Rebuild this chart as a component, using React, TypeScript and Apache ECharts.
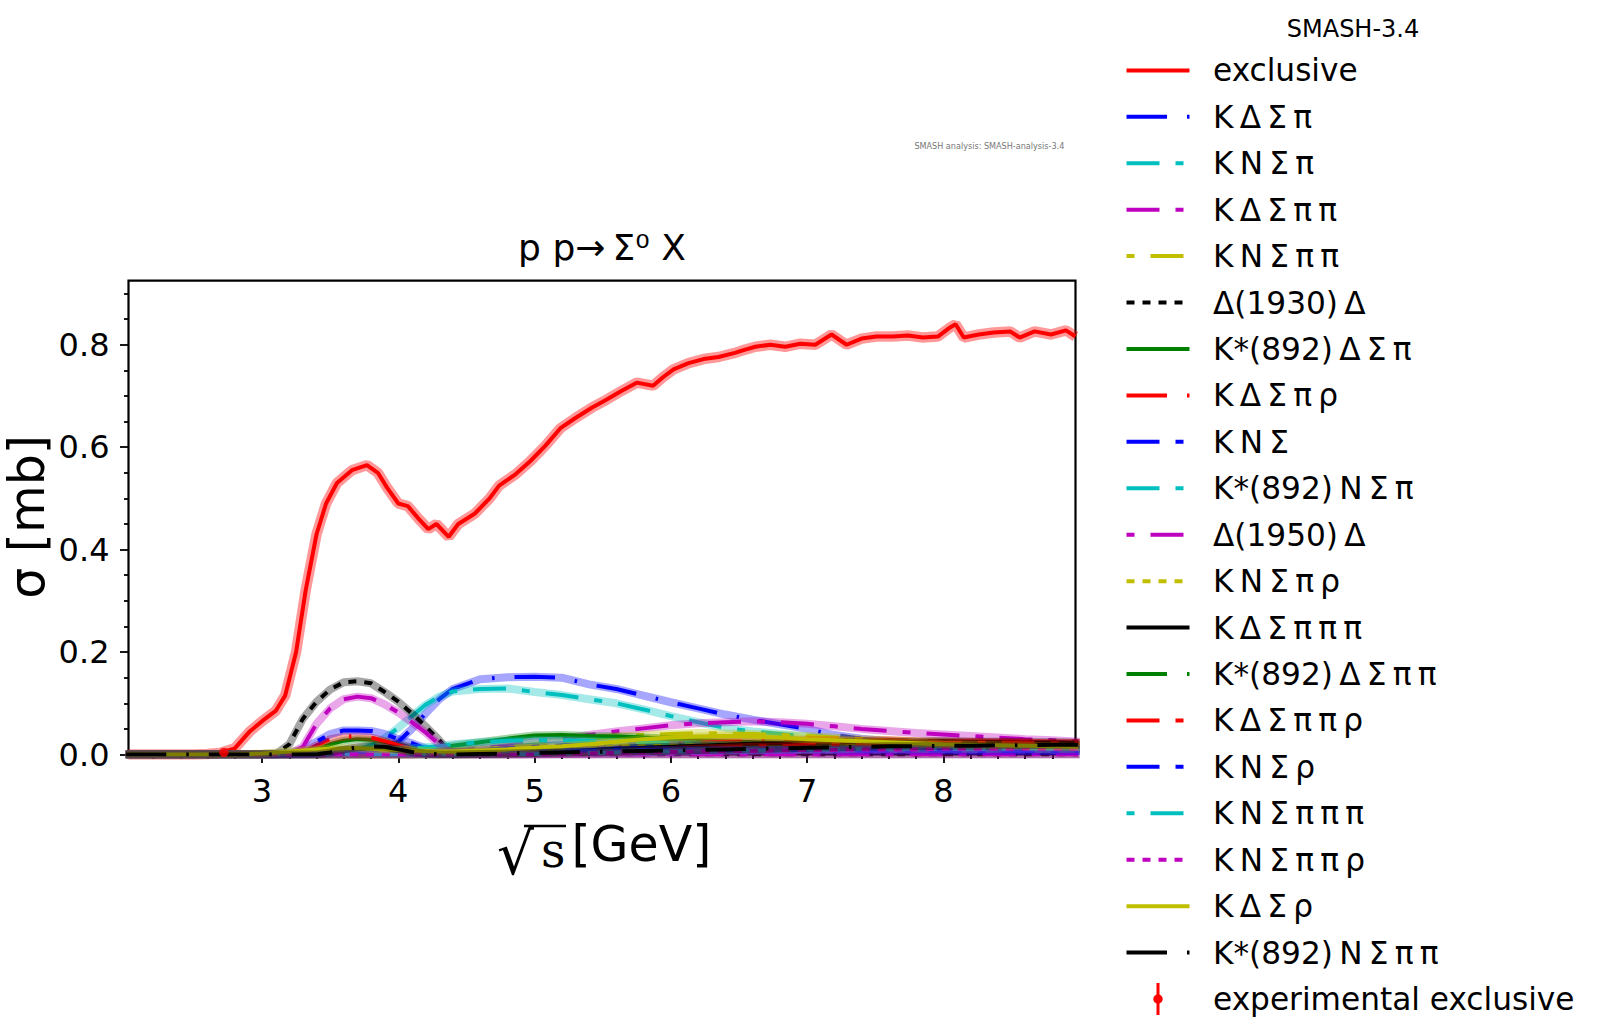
import React, { useEffect, useRef } from "react";
import * as echarts from "echarts";

// ---------- axes ----------
const X_MIN = 2.02;
const X_MAX = 8.97;
const Y_MIN = 0;
const Y_MAX = 0.925;
const X_MAJOR = [3, 4, 5, 6, 7, 8];
const X_MINOR = [2.2, 2.4, 2.6, 2.8, 3.2, 3.4, 3.6, 3.8, 4.2, 4.4, 4.6, 4.8, 5.2, 5.4, 5.6, 5.8, 6.2, 6.4, 6.6, 6.8, 7.2, 7.4, 7.6, 7.8, 8.2, 8.4, 8.6, 8.8];
const Y_MAJOR = [0, 0.2, 0.4, 0.6, 0.8];
const Y_MINOR = [0.05, 0.1, 0.15, 0.25, 0.3, 0.35, 0.45, 0.5, 0.55, 0.65, 0.7, 0.75, 0.85, 0.9];

// ---------- exclusive ----------
const EXCL_X = [2.02, 2.3, 2.5, 2.6, 2.69, 2.8, 2.91, 3.0, 3.1, 3.17, 3.25, 3.32, 3.4, 3.47, 3.55, 3.66, 3.77, 3.85, 3.92, 4.0, 4.07, 4.15, 4.22, 4.28, 4.37, 4.44, 4.56, 4.67, 4.74, 4.86, 4.97, 5.08, 5.19, 5.3, 5.42, 5.53, 5.64, 5.75, 5.87, 5.94, 6.02, 6.13, 6.24, 6.35, 6.47, 6.54, 6.62, 6.73, 6.84, 6.95, 7.06, 7.18, 7.29, 7.4, 7.51, 7.63, 7.74, 7.85, 7.96, 8.04, 8.09, 8.15, 8.26, 8.37, 8.49, 8.56, 8.67, 8.79, 8.9, 8.97];
const EXCL_Y = [0, 0, 0, 0.001, 0.003, 0.012, 0.045, 0.065, 0.085, 0.115, 0.2, 0.32, 0.43, 0.49, 0.53, 0.555, 0.565, 0.55, 0.52, 0.49, 0.485, 0.46, 0.44, 0.45, 0.425, 0.45, 0.47, 0.5, 0.525, 0.547, 0.573, 0.603, 0.637, 0.657, 0.677, 0.693, 0.71, 0.726, 0.72, 0.736, 0.752, 0.764, 0.772, 0.776, 0.784, 0.79, 0.796, 0.8, 0.796, 0.802, 0.8, 0.82, 0.8, 0.812, 0.816, 0.816, 0.818, 0.814, 0.816, 0.832, 0.84, 0.814, 0.82, 0.824, 0.826, 0.814, 0.826, 0.82, 0.828, 0.816];

// ---------- experimental ----------
const EXP_X = [2.72];
const EXP_Y = [0.004];
const EXP_ERR = [0.002];

// ---------- channel grid (sqrt(s) in GeV) ----------
const G = [2.0, 2.4, 2.8,
  3.0, 3.1, 3.2, 3.3, 3.4, 3.5, 3.6, 3.7, 3.8, 3.9,
  4.0, 4.1, 4.2, 4.3, 4.4,
  4.6, 4.8, 5.0, 5.2, 5.4, 5.6, 5.8,
  6.0, 6.2, 6.4, 6.6, 6.8,
  7.0, 7.2, 7.4, 7.6, 7.8,
  8.0, 8.2, 8.4, 8.6, 8.8, 9.0];

const V_KDSpi = [0, 0, 0,
  0, 0, 0, 0, 0, 0, 0, 0, 0.002, 0.008,
  0.025, 0.05, 0.08, 0.108, 0.128,
  0.147, 0.151, 0.152, 0.15, 0.137, 0.128, 0.115,
  0.102, 0.09, 0.078, 0.068, 0.059,
  0.05, 0.038, 0.031, 0.026, 0.022,
  0.019, 0.017, 0.015, 0.014, 0.013, 0.012];
const V_KNSpi = [0, 0, 0,
  0, 0, 0.001, 0.002, 0.003, 0.004, 0.006, 0.01, 0.018, 0.032,
  0.052, 0.075, 0.097, 0.113, 0.123,
  0.128, 0.129, 0.122, 0.116, 0.108, 0.1, 0.088,
  0.075, 0.063, 0.052, 0.045, 0.04,
  0.035, 0.03, 0.027, 0.024, 0.022,
  0.02, 0.019, 0.018, 0.017, 0.016, 0.015];
const V_KDSpipi = [0, 0, 0,
  0, 0, 0, 0, 0, 0, 0, 0, 0, 0,
  0, 0, 0.002, 0.005, 0.008,
  0.012, 0.018, 0.025, 0.031, 0.038, 0.045, 0.051,
  0.057, 0.061, 0.063, 0.065, 0.063,
  0.06, 0.055, 0.05, 0.046, 0.042,
  0.039, 0.036, 0.033, 0.03, 0.028, 0.025];
const V_KNSpipi = [0, 0, 0,
  0, 0, 0, 0, 0, 0, 0, 0, 0, 0,
  0, 0, 0.002, 0.004, 0.006,
  0.01, 0.015, 0.02, 0.025, 0.03, 0.035, 0.038,
  0.04, 0.042, 0.041, 0.04, 0.038,
  0.036, 0.033, 0.03, 0.028, 0.026,
  0.024, 0.022, 0.02, 0.018, 0.017, 0.016];
const V_D1930D = [0, 0, 0,
  0, 0, 0.02, 0.07, 0.103, 0.127, 0.141, 0.143, 0.139, 0.122,
  0.103, 0.08, 0.055, 0.028, 0,
  0, 0, 0, 0, 0, 0, 0,
  0, 0, 0, 0, 0,
  0, 0, 0, 0, 0,
  0, 0, 0, 0, 0, 0];
const V_KsDSpi = [0, 0, 0,
  0, 0, 0, 0.003, 0.01, 0.02, 0.027, 0.03, 0.029, 0.025,
  0.02, 0.014, 0.01, 0.012, 0.017,
  0.024, 0.031, 0.037, 0.038, 0.036, 0.035, 0.033,
  0.03, 0.028, 0.026, 0.024, 0.022,
  0.02, 0.018, 0.017, 0.016, 0.015,
  0.014, 0.013, 0.012, 0.011, 0.011, 0.01];
const V_KDSpirho = [0, 0, 0,
  0, 0, 0, 0.005, 0.018, 0.03, 0.035, 0.036, 0.033, 0.026,
  0.018, 0.012, 0.008, 0.006, 0.005,
  0.005, 0.006, 0.008, 0.01, 0.013, 0.016, 0.019,
  0.021, 0.023, 0.025, 0.026, 0.027,
  0.028, 0.028, 0.027, 0.028, 0.026,
  0.025, 0.025, 0.024, 0.023, 0.022, 0.022];
const V_KNS = [0, 0, 0,
  0.001, 0.002, 0.003, 0.01, 0.025, 0.04, 0.047, 0.047, 0.046, 0.04,
  0.03, 0.022, 0.012, 0.006, 0.005,
  0.008, 0.012, 0.015, 0.018, 0.02, 0.02, 0.019,
  0.018, 0.017, 0.015, 0.014, 0.013,
  0.012, 0.011, 0.01, 0.01, 0.009,
  0.009, 0.008, 0.008, 0.008, 0.007, 0.007];
const V_KsNSpi = [0, 0, 0,
  0, 0, 0.002, 0.005, 0.007, 0.008, 0.008, 0.008, 0.008, 0.009,
  0.01, 0.012, 0.014, 0.016, 0.02,
  0.024, 0.027, 0.028, 0.028, 0.027, 0.025, 0.024,
  0.022, 0.02, 0.019, 0.018, 0.017,
  0.016, 0.015, 0.014, 0.013, 0.013,
  0.012, 0.012, 0.011, 0.011, 0.01, 0.01];
const V_D1950D = [0, 0, 0,
  0, 0, 0, 0.015, 0.06, 0.09, 0.108, 0.113, 0.11, 0.098,
  0.082, 0.063, 0.043, 0.02, 0,
  0, 0, 0, 0, 0, 0, 0,
  0, 0, 0, 0, 0,
  0, 0, 0, 0, 0,
  0, 0, 0, 0, 0, 0];
const V_KNSpirho = [0, 0, 0,
  0, 0, 0, 0, 0, 0, 0, 0, 0, 0,
  0, 0, 0, 0.002, 0.003,
  0.005, 0.007, 0.009, 0.011, 0.013, 0.015, 0.016,
  0.017, 0.018, 0.019, 0.019, 0.02,
  0.02, 0.02, 0.019, 0.019, 0.018,
  0.018, 0.017, 0.017, 0.016, 0.016, 0.015];
const V_KDSpipipi = [0, 0, 0,
  0, 0, 0, 0, 0, 0, 0, 0, 0, 0,
  0, 0, 0, 0, 0.001,
  0.002, 0.003, 0.005, 0.007, 0.009, 0.011, 0.013,
  0.015, 0.017, 0.019, 0.021, 0.022,
  0.023, 0.024, 0.025, 0.025, 0.025,
  0.026, 0.025, 0.025, 0.024, 0.024, 0.023];
const V_KsDSpipi = [0, 0, 0,
  0, 0, 0, 0, 0, 0, 0, 0, 0, 0,
  0, 0, 0, 0, 0,
  0.001, 0.002, 0.003, 0.004, 0.005, 0.006, 0.007,
  0.008, 0.009, 0.01, 0.01, 0.011,
  0.011, 0.012, 0.012, 0.012, 0.012,
  0.012, 0.012, 0.012, 0.011, 0.011, 0.011];
const V_KDSpipirho = [0, 0, 0,
  0, 0, 0, 0, 0, 0, 0, 0, 0, 0,
  0, 0, 0, 0, 0,
  0, 0, 0.001, 0.002, 0.003, 0.005, 0.007,
  0.009, 0.011, 0.013, 0.015, 0.016,
  0.018, 0.019, 0.02, 0.021, 0.022,
  0.022, 0.023, 0.023, 0.023, 0.022, 0.022];
const V_KNSrho = [0, 0, 0,
  0, 0, 0, 0, 0.002, 0.004, 0.005, 0.006, 0.006, 0.005,
  0.004, 0.003, 0.003, 0.003, 0.004,
  0.005, 0.006, 0.007, 0.008, 0.008, 0.009, 0.009,
  0.009, 0.009, 0.009, 0.009, 0.009,
  0.009, 0.008, 0.008, 0.008, 0.008,
  0.008, 0.007, 0.007, 0.007, 0.007, 0.007];
const V_KNSpipipi = [0, 0, 0,
  0, 0, 0, 0, 0, 0, 0, 0, 0, 0,
  0, 0, 0, 0, 0,
  0, 0, 0.001, 0.002, 0.003, 0.004, 0.005,
  0.006, 0.007, 0.008, 0.008, 0.009,
  0.01, 0.01, 0.011, 0.011, 0.011,
  0.011, 0.011, 0.011, 0.011, 0.011, 0.011];
const V_KNSpipirho = [0, 0, 0,
  0, 0, 0, 0, 0, 0, 0, 0, 0, 0,
  0, 0, 0, 0, 0,
  0, 0, 0, 0.001, 0.002, 0.003, 0.004,
  0.005, 0.006, 0.007, 0.007, 0.008,
  0.009, 0.009, 0.01, 0.01, 0.01,
  0.011, 0.011, 0.011, 0.011, 0.011, 0.011];
const V_KDSrho = [0, 0, 0,
  0.002, 0.004, 0.006, 0.008, 0.01, 0.011, 0.012, 0.012, 0.011, 0.01,
  0.009, 0.008, 0.007, 0.006, 0.006,
  0.008, 0.01, 0.013, 0.016, 0.02, 0.025, 0.03,
  0.033, 0.035, 0.036, 0.035, 0.033,
  0.03, 0.028, 0.026, 0.024, 0.022,
  0.02, 0.019, 0.018, 0.017, 0.016, 0.015];
const V_KsNSpipi = [0, 0, 0,
  0, 0, 0, 0, 0, 0.004, 0.01, 0.014, 0.016, 0.015,
  0.01, 0.005, 0.002, 0, 0,
  0.001, 0.002, 0.003, 0.004, 0.005, 0.006, 0.007,
  0.008, 0.009, 0.01, 0.011, 0.012,
  0.013, 0.014, 0.015, 0.016, 0.016,
  0.017, 0.017, 0.018, 0.018, 0.019, 0.019];

const T = "\u2009";
const CHANNEL_NAMES = [
  `K${T}Δ${T}Σ${T}π`,
  `K${T}N${T}Σ${T}π`,
  `K${T}Δ${T}Σ${T}π${T}π`,
  `K${T}N${T}Σ${T}π${T}π`,
  `Δ(1930)${T}Δ`,
  `K*(892)${T}Δ${T}Σ${T}π`,
  `K${T}Δ${T}Σ${T}π${T}ρ`,
  `K${T}N${T}Σ`,
  `K*(892)${T}N${T}Σ${T}π`,
  `Δ(1950)${T}Δ`,
  `K${T}N${T}Σ${T}π${T}ρ`,
  `K${T}Δ${T}Σ${T}π${T}π${T}π`,
  `K*(892)${T}Δ${T}Σ${T}π${T}π`,
  `K${T}Δ${T}Σ${T}π${T}π${T}ρ`,
  `K${T}N${T}Σ${T}ρ`,
  `K${T}N${T}Σ${T}π${T}π${T}π`,
  `K${T}N${T}Σ${T}π${T}π${T}ρ`,
  `K${T}Δ${T}Σ${T}ρ`,
  `K*(892)${T}N${T}Σ${T}π${T}π`,
];
const CHANNEL_VALUES = [
  V_KDSpi, V_KNSpi, V_KDSpipi, V_KNSpipi, V_D1930D, V_KsDSpi, V_KDSpirho,
  V_KNS, V_KsNSpi, V_D1950D, V_KNSpirho, V_KDSpipipi, V_KsDSpipi, V_KDSpipirho,
  V_KNSrho, V_KNSpipipi, V_KNSpipirho, V_KDSrho, V_KsNSpipi,
];

// ---------- styles ----------
const FONT = "DejaVu Sans";
const C_R = "#ff0000", C_B = "#0000ff", C_C = "#00bfbf", C_M = "#bf00bf", C_Y = "#bfbf00", C_K = "#000000", C_G = "#008000";
const DASH_A = [40.5, 20, 2.5, 20];
const DASH_B = [33, 16, 8, 16];
const DASH_C = [8, 16, 33, 16];
const DASH_D = [8, 8];
const CHANNEL_COLORS = [C_B, C_C, C_M, C_Y, C_K, C_G, C_R, C_B, C_C, C_M, C_Y, C_K, C_G, C_R, C_B, C_C, C_M, C_Y, C_K];
const CHANNEL_DASHES: (number[] | null)[] = [DASH_A, DASH_B, DASH_B, DASH_C, DASH_D, null, DASH_A, DASH_B, DASH_B, DASH_C, DASH_D, null, DASH_A, DASH_B, DASH_B, DASH_C, DASH_D, null, DASH_A];

const GRID = { left: 128.5, top: 280.7, width: 947, height: 473.8 };
const LEG_X = 1126.5;
const LEG_LEN = 63;
const LEG_TEXT_X = 1213;
const LEG_Y0 = 70.4;
const LEG_DY = 46.43;
const LEG_FONT = 31.2;

function buildOption() {
  const series: any[] = [];
  const lineWidth = 4;

  const exclData = EXCL_X.map((x, i) => [x, EXCL_Y[i]]);
  series.push({
    type: "line", data: exclData, symbol: "none", silent: true, z: 2,
    lineStyle: { color: C_R, width: 10.5, opacity: 0.4 },
  });
  series.push({
    type: "line", data: exclData, symbol: "none", silent: true, z: 2,
    lineStyle: { color: C_R, width: lineWidth },
  });

  CHANNEL_VALUES.forEach((vals, k) => {
    const data = G.map((x, i) => [x, vals[i]]);
    series.push({
      type: "line", data, symbol: "none", silent: true, z: 2,
      lineStyle: { color: CHANNEL_COLORS[k], width: 8, opacity: 0.35 },
    });
    series.push({
      type: "line", data, symbol: "none", silent: true, z: 2,
      lineStyle: { color: CHANNEL_COLORS[k], width: lineWidth, type: CHANNEL_DASHES[k] || "solid" },
    });
  });

  series.push({
    type: "custom", z: 5, silent: true,
    data: EXP_X.map((x, i) => [x, EXP_Y[i] - EXP_ERR[i], EXP_Y[i] + EXP_ERR[i]]),
    renderItem: (_p: any, api: any) => {
      const a = api.coord([api.value(0), api.value(1)]);
      const b = api.coord([api.value(0), api.value(2)]);
      return { type: "line", shape: { x1: a[0], y1: a[1], x2: b[0], y2: b[1] }, style: { stroke: C_R, lineWidth: 3 } };
    },
  });
  series.push({
    type: "scatter", z: 5, silent: true, symbolSize: 9.5,
    itemStyle: { color: C_R },
    data: EXP_X.map((x, i) => [x, EXP_Y[i]]),
  });

  const graphic: any[] = [];
  const txt = (x: number, y: number, text: string, size: number, align = "left", extra: any = {}) => {
    const { style: extraStyle, ...rest } = extra;
    return {
      type: "text", x, y, silent: true, ...rest,
      style: { text, fontSize: size, fontFamily: FONT, fill: "#000", align, verticalAlign: "middle", textAlign: align, textVerticalAlign: "middle", ...(extraStyle || {}) },
    };
  };

  // title and axis names
  graphic.push(txt(602, 247, `p p→${T}Σ⁰ X`, 36, "center"));
  graphic.push(txt(27, 517, "σ [mb]", 49, "center", { rotation: Math.PI / 2 }));
  graphic.push(txt(497, 853.5, "√", 58, "left"));
  graphic.push(txt(541, 850.7, "s", 47.6, "left", { style: { fontFamily: "DejaVu Serif" } }));
  graphic.push(txt(571.4, 844, "[GeV]", 49, "left"));
  graphic.push({ type: "line", silent: true, shape: { x1: 524, y1: 826, x2: 566, y2: 826 }, style: { stroke: "#000", lineWidth: 2.6 } });

  // analysis tag and legend title
  graphic.push(txt(1064.3, 146, "SMASH analysis: SMASH-analysis-3.4", 8.1, "right", { style: { fill: "#777" } }));
  graphic.push(txt(1353, 28.5, "SMASH-3.4", 24, "center"));

  // legend
  const legendNames = ["exclusive", ...CHANNEL_NAMES];
  const legendColors = [C_R, ...CHANNEL_COLORS];
  const legendDashes = [null, ...CHANNEL_DASHES];
  legendNames.forEach((name, i) => {
    const y = LEG_Y0 + LEG_DY * i;
    const d = legendDashes[i];
    graphic.push({
      type: "line", silent: true,
      shape: { x1: LEG_X, y1: y, x2: LEG_X + LEG_LEN, y2: y },
      style: { stroke: legendColors[i], lineWidth: 4, lineDash: d || null },
    });
    graphic.push(txt(LEG_TEXT_X, y, name, LEG_FONT));
  });
  {
    const y = LEG_Y0 + LEG_DY * legendNames.length;
    const cx = LEG_X + LEG_LEN / 2;
    graphic.push({ type: "line", silent: true, shape: { x1: cx, y1: y - 16, x2: cx, y2: y + 16 }, style: { stroke: C_R, lineWidth: 3 } });
    graphic.push({ type: "circle", silent: true, shape: { cx, cy: y, r: 4.7 }, style: { fill: C_R } });
    graphic.push(txt(LEG_TEXT_X, y, "experimental exclusive", LEG_FONT));
  }

  const tickStyle = { color: "#000", width: 1.8 };
  return {
    animation: false,
    backgroundColor: "#ffffff",
    textStyle: { fontFamily: FONT },
    grid: { ...GRID, show: true, borderColor: "#000", borderWidth: 2.2, backgroundColor: "transparent" },
    xAxis: [
      {
        type: "value", min: X_MIN, max: X_MAX, position: "bottom",
        axisLine: { show: false }, splitLine: { show: false },
        axisTick: { show: true, customValues: X_MAJOR, length: 8.5, lineStyle: tickStyle },
        axisLabel: { customValues: X_MAJOR, fontSize: 32, color: "#000", fontFamily: FONT, margin: 20 },
      },
      {
        type: "value", min: X_MIN, max: X_MAX, position: "bottom", offset: 0,
        axisLine: { show: false }, splitLine: { show: false },
        axisTick: { show: true, customValues: X_MINOR, length: 4.5, lineStyle: tickStyle },
        axisLabel: { show: false },
      },
    ],
    yAxis: [
      {
        type: "value", min: Y_MIN, max: Y_MAX, position: "left",
        axisLine: { show: false }, splitLine: { show: false },
        axisTick: { show: true, customValues: Y_MAJOR, length: 8.5, lineStyle: tickStyle },
        axisLabel: { customValues: Y_MAJOR, fontSize: 32, color: "#000", fontFamily: FONT, margin: 19, formatter: (v: number) => v.toFixed(1) },
      },
      {
        type: "value", min: Y_MIN, max: Y_MAX, position: "left", offset: 0,
        axisLine: { show: false }, splitLine: { show: false },
        axisTick: { show: true, customValues: Y_MINOR, length: 4.5, lineStyle: tickStyle },
        axisLabel: { show: false },
      },
    ],
    series,
    graphic,
  };
}

export default function App() {
  const ref = useRef<HTMLDivElement>(null);
  useEffect(() => {
    if (!ref.current) return;
    const chart = echarts.init(ref.current, null, { renderer: "svg" });
    chart.setOption(buildOption());
    return () => chart.dispose();
  }, []);
  return (
    <div
      ref={ref}
      style={{ position: "fixed", left: 0, top: 0, width: "1600px", height: "1036px", background: "#fff" }}
    />
  );
}
